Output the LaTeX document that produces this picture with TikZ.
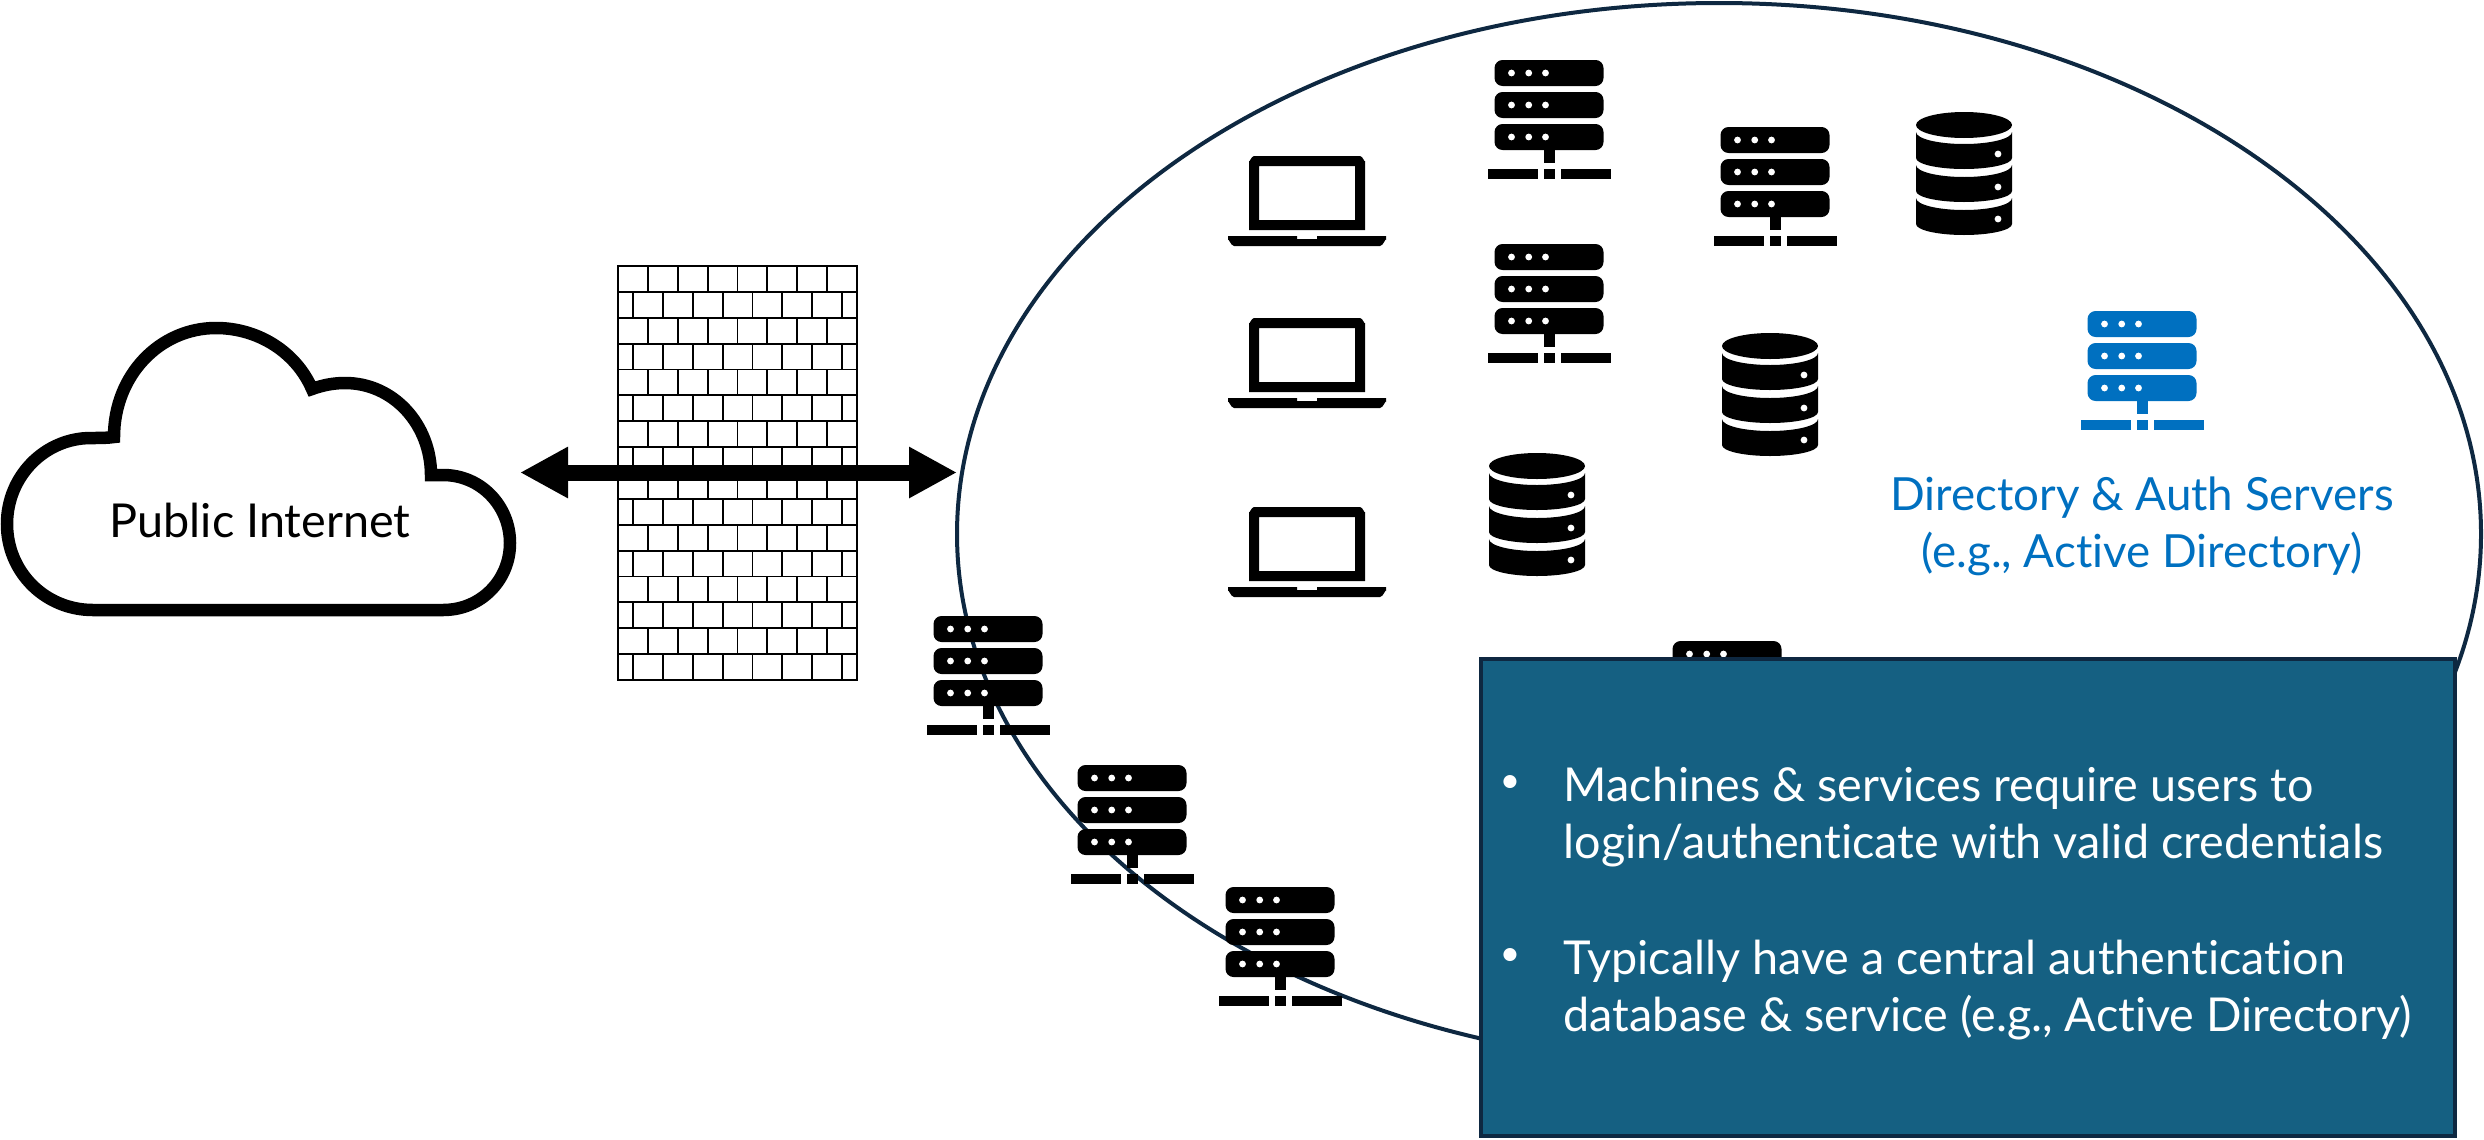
\documentclass[tikz,border=0pt]{standalone}
\usepackage{fontspec}
\setmainfont[Ligatures=NoCommon]{Lato}
\usetikzlibrary{arrows.meta,shapes.geometric}

\definecolor{boxteal}{HTML}{156082}
\definecolor{lannavy}{HTML}{0E2841}
\definecolor{authblue}{HTML}{0070C0}

\tikzset{
  icontext/.style={font=\fontsize{13.3}{16.2}\selectfont, align=center, inner sep=0pt},
  serverrack/.pic={
    \foreach \ytop in {0,32,64} {
      \fill[rounded corners=0.8mm] (-54.5,\ytop) rectangle (54.5,\ytop+26);
      \foreach \xdot in {-37.5,-20.3,-3.5}
        \fill[white] (\xdot,\ytop+13) circle[radius=3.4];
    }
    \fill (-5.5,90) rectangle (5.5,103);
    \fill (-61.5,109) rectangle (-11.5,119);
    \fill (-5.5,109) rectangle (5.5,119);
    \fill (11.5,109) rectangle (61.5,119);
  },
  laptop/.pic={
    \fill[even odd rule] (-58,74) -- (-58,5) to[out=-90,in=180] (-53,0) -- (53,0)
      to[out=0,in=-90] (58,5) -- (58,74) -- cycle
      (-48,10) rectangle (48,64);
    \fill (-79,80) -- (-10,80) -- (-10,83) -- (10,83) -- (10,80) -- (79,80)
      -- (79,84) to[out=90,in=0] (73,90) -- (-73,90) to[out=180,in=90] (-79,84) -- cycle;
  },
  database/.pic={
    \fill (0,13) ellipse[x radius=48,y radius=13];
    \foreach \ytop/\ydot in {20/42,53/75,86/107} {
      \fill (-48,\ytop) arc[start angle=180,end angle=0,x radius=48,y radius=12]
        -- (48,\ytop+26) arc[start angle=0,end angle=180,x radius=48,y radius=11] -- cycle;
      \fill[white] (34,\ydot) circle[radius=3.4];
    }
  }
}

\begin{document}
\begin{tikzpicture}[x=0.1mm,y=-0.1mm]
  \useasboundingbox (0,0) rectangle (2484,1139);

  % private network
  \node[ellipse, draw=lannavy, line width=0.4mm, minimum width=152.4mm, minimum height=106.2mm, inner sep=0pt] (lan) at (1719,534) {};

  % firewall
  \draw[line width=0.18mm] (618,266) rectangle (857,680);
  \foreach \row in {1,...,15}
    \draw[line width=0.18mm] (618,266+25.875*\row) -- (857,266+25.875*\row);
  \foreach \row in {0,2,...,14} {
    \foreach \col in {1,...,7}
      \draw[line width=0.18mm] (618+29.875*\col,266+25.875*\row) -- ++(0,25.875);
  }
  \foreach \row in {1,3,...,15} {
    \foreach \col in {0,...,7}
      \draw[line width=0.18mm] (633+29.875*\col,266+25.875*\row) -- ++(0,25.875);
  }

  % cloud
  \draw[line width=1.25mm, fill=white, miter limit=4] (114,437)
    .. controls (114,375) and (160,328) .. (216,328)
    .. controls (258,328) and (296,352) .. (312,389)
    .. controls (323,385) and (334,383) .. (345,383)
    .. controls (394,383) and (431,425) .. (431,475)
    -- (443,475)
    .. controls (481,475) and (510,506) .. (510,543)
    .. controls (510,580) and (481,610) .. (443,610)
    -- (93,610)
    .. controls (45,610) and (7,572) .. (7,524)
    .. controls (7,476) and (45,438) .. (91,438)
    .. controls (100,438) and (107,438) .. (114,437) -- cycle;
  \node[icontext] (internet) at (260,520) {Public Internet};

  % link through the wall
  \coordinate (linkL) at (520,472.5);
  \coordinate (linkR) at (957,472.5);
  \draw[{Triangle[width=4.8mm,length=4.8mm]}-{Triangle[width=4.8mm,length=4.8mm]}, line width=1.6mm] (linkL) -- (linkR);

  % laptops
  \pic (laptopA) at (1307,156) {laptop};
  \pic (laptopB) at (1307,318) {laptop};
  \pic (laptopC) at (1307,507) {laptop};

  % servers
  \pic (srvA) at (1549,60) {serverrack};
  \pic (srvB) at (1775,127) {serverrack};
  \pic (srvC) at (1549,244) {serverrack};
  \pic (srvD) at (988,616) {serverrack};
  \pic (srvE) at (1132,765) {serverrack};
  \pic (srvF) at (1280,887) {serverrack};
  \pic (srvG) at (1727,641) {serverrack};
  \pic[authblue] (srvAuth) at (2142,311) {serverrack};

  % databases
  \pic (dbA) at (1964,112) {database};
  \pic (dbB) at (1770,333) {database};
  \pic (dbC) at (1537,453) {database};

  \node[icontext, font=\fontsize{13}{16.2}\selectfont, text=authblue] (authlabel) at (2142,526) {Directory \& Auth Servers\\(e.g., Active Directory)};

  % callout
  \node[draw=lannavy, line width=0.35mm, fill=boxteal, minimum width=97.4mm, minimum height=47.7mm, inner sep=0pt] (callout) at (1968,897.5) {};
  \node[icontext, text=white, anchor=west, align=left] (bulletA) at (1563,817) {Machines \& services require users to\\login/authenticate with valid credentials};
  \node[icontext, text=white, anchor=west, align=left] (bulletB) at (1563,990) {Typically have a central authentication\\database \& service (e.g., Active Directory)};
  \node[icontext, font=\fontsize{10}{12}\selectfont, text=white] (dotA) at (1510,784) {•};
  \node[icontext, font=\fontsize{10}{12}\selectfont, text=white] (dotB) at (1510,957) {•};
\end{tikzpicture}
\end{document}
